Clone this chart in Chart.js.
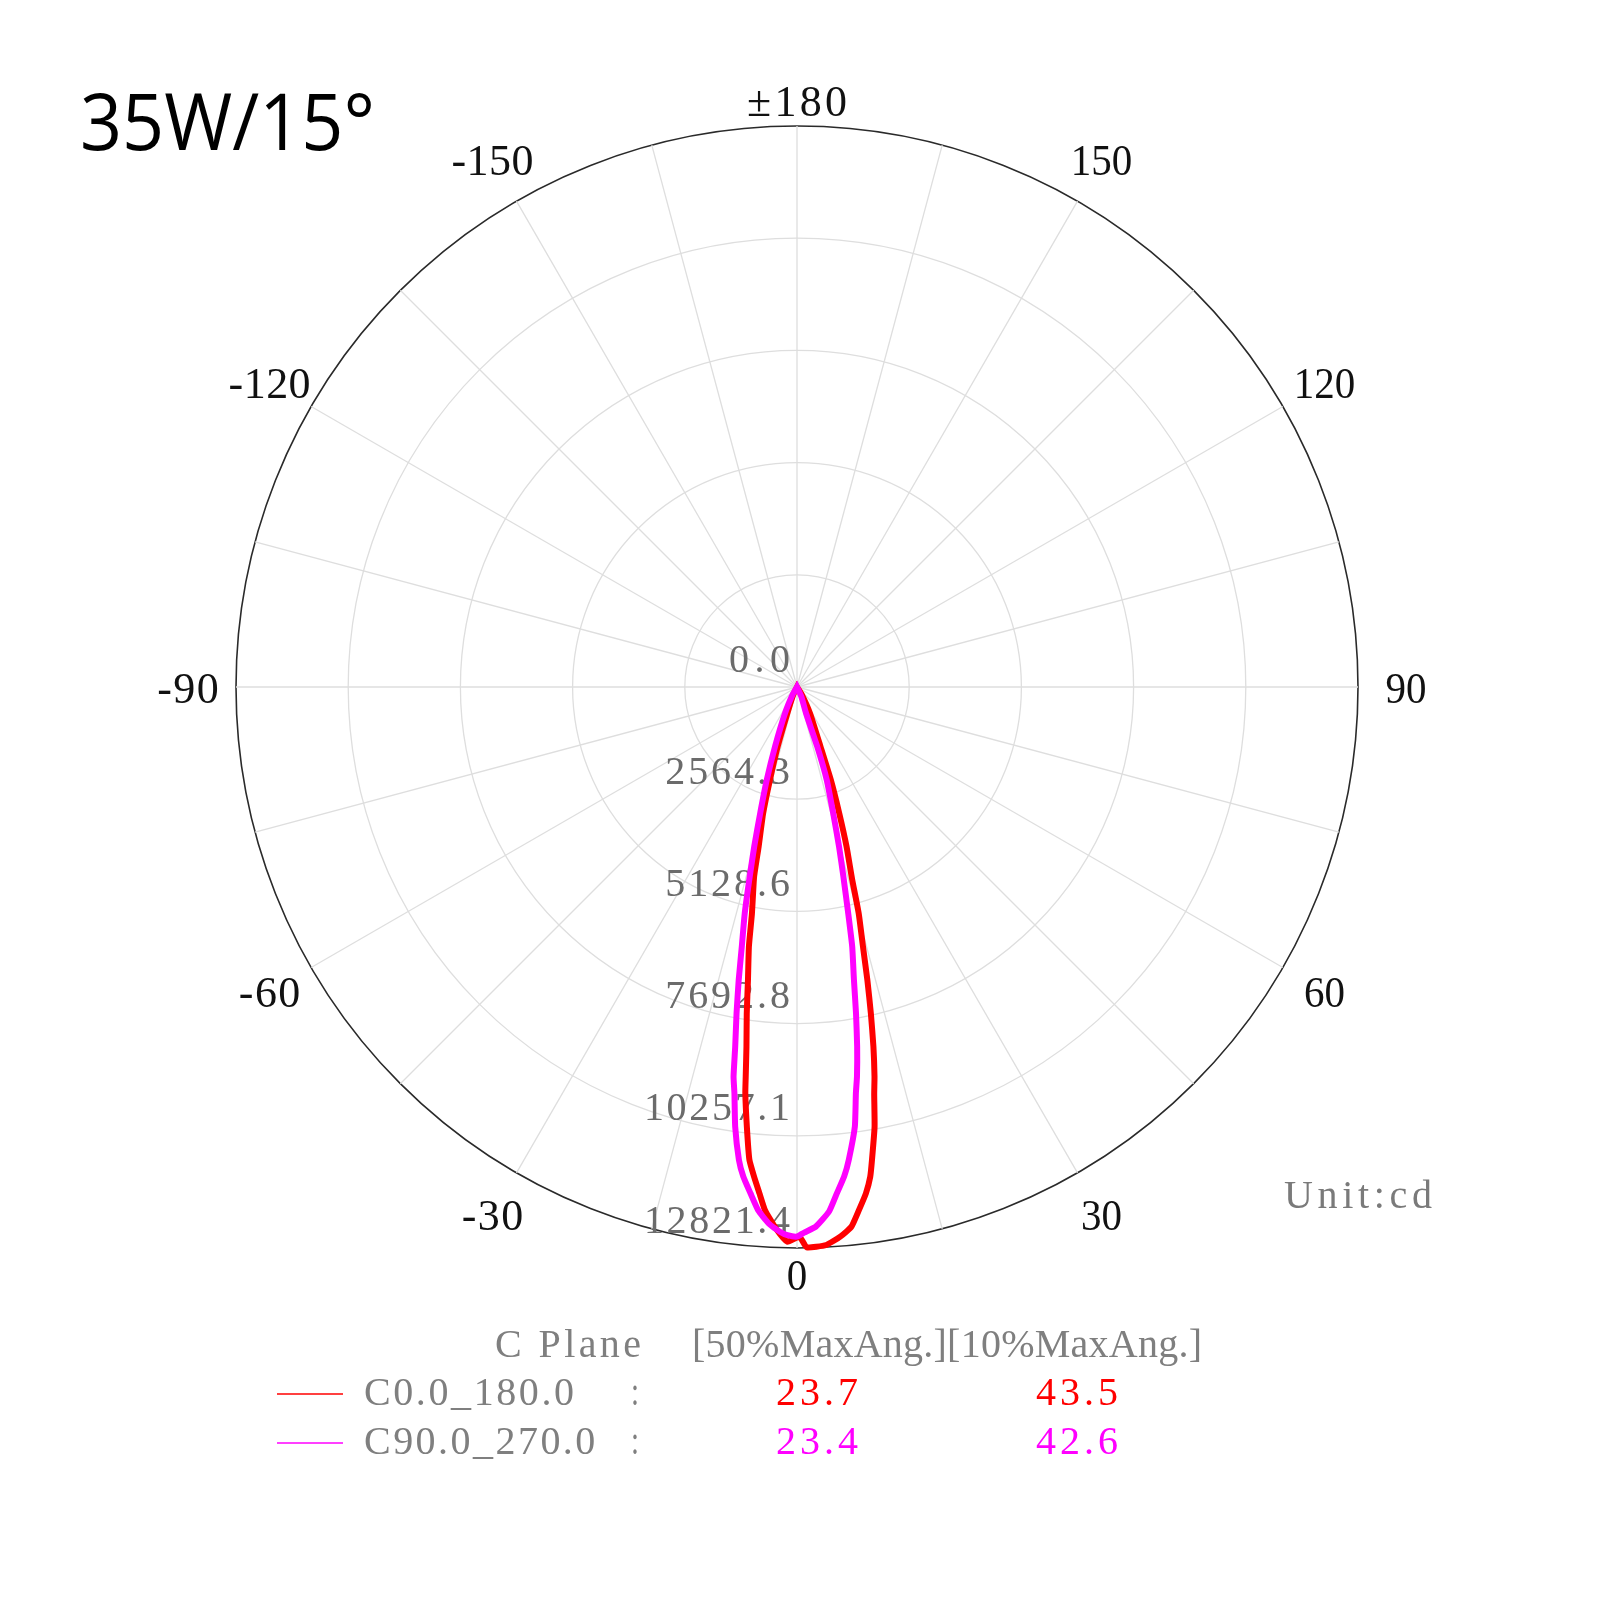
<!DOCTYPE html>
<html>
<head>
<meta charset="utf-8">
<title>35W/15° intensity distribution</title>
<script src="https://cdn.jsdelivr.net/npm/chart.js@4.4.1/dist/chart.umd.min.js"></script>
<style>
  html, body { margin: 0; padding: 0; background: #fff; overflow: hidden; }
  #wrap { width: 1600px; height: 1600px; }
</style>
</head>
<body>
<div id="wrap"><canvas id="polarChart" width="1600" height="1600"></canvas></div>
<script>
// Readings: gamma angle (deg) and intensity (cd)
const c0Angles = [40, 32, 26.25, 21.5, 20, 18.5, 17.25, 16, 15.25, 14.25, 13.5, 12.75, 12, 11.25, 10.75, 10, 9, 8.5, 7.75, 6.75, 5.75, 4.5, 3, 1, 0.25, -1, -2.25, -3.5, -4.25, -5, -5.75, -6.5, -7.25, -7.5, -8, -8.75, -9.5, -10.5, -11.25, -12.75, -13.5, -15, -16.25, -18, -20.25, -26, -40];
const c0Values = [0, 200, 670, 1470, 2260, 3040, 3820, 4570, 5360, 6130, 6890, 7650, 8400, 9080, 9460, 10210, 10950, 11320, 11680, 12040, 12400, 12600, 12770, 12810, 12560, 12680, 12380, 11980, 11600, 11240, 10860, 10120, 9360, 8980, 8300, 7550, 6790, 6030, 5280, 4440, 3760, 2990, 2210, 1430, 640, 200, 0];

const c90Angles = [40, 24, 19, 18.75, 17.75, 16, 14.75, 13.75, 12.75, 12, 11, 10.25, 9.5, 8.75, 8.25, 7.5, 6.25, 5.5, 4.5, 3.5, 2, 0.75, 0, -1, -1.75, -3, -4.25, -5.25, -6.25, -7, -8, -8.75, -9.25, -9.75, -10.5, -11.25, -12, -13, -14, -15, -16.25, -18, -20.25, -24.5, -30, -40];
const c90Values = [0, 250, 640, 1440, 2230, 3000, 3780, 4460, 5300, 6070, 6820, 7580, 8330, 9010, 9380, 10130, 10870, 11240, 11610, 12010, 12340, 12470, 12560, 12530, 12460, 12280, 11990, 11620, 11260, 10890, 10150, 9400, 9020, 8340, 7580, 6830, 6070, 5310, 4470, 3780, 3010, 2240, 1450, 660, 200, 0];

const ringTicks = [0, 2564.3, 5128.6, 7692.8, 10257.1, 12821.4];
const angleTicks = [180, 150, 120, 90, 60, 30, 0, -30, -60, -90, -120, -150];

const planeNames = ["C0.0_180.0", "C90.0_270.0"];
const halfMaxAng = [23.7, 23.4];
const tenthMaxAng = [43.5, 42.6];
const planeColors = ["#ff0000", "#ff00ff"];

// radar slots every quarter degree, clockwise from the top (gamma 180)
const STEP = 0.25;
const SLOTS = 360 / STEP;
const slot = g => ((Math.round((180 - g) / STEP) % SLOTS) + SLOTS) % SLOTS;

let labels = [];
for (let k = 0; k < SLOTS; k++) labels.push(180 - k * STEP);

function toSeries(angles, values) {
  const arr = new Array(SLOTS).fill(null);
  angles.forEach((g, i) => { arr[slot(g)] = values[i]; });
  return arr;
}

// draws text stretched/squeezed to a given width (mimics the monospaced look)
function drawFit(ctx, text, x, y, align, width) {
  ctx.letterSpacing = "0px";
  const natural = ctx.measureText(text).width;
  const n = text.length;
  const left = align === "right" ? x - width : align === "center" ? x - width / 2 : x;
  ctx.textAlign = "left";
  if (natural < width && n > 1) {
    ctx.letterSpacing = ((width - natural) / (n - 1)) + "px";
    ctx.fillText(text, left, y);
    ctx.letterSpacing = "0px";
  } else {
    ctx.fillText(text, left, y, width);
  }
}

const polarText = {
  id: "polarText",
  beforeDatasetsDraw(chart) {
    const ctx = chart.ctx, r = chart.scales.r;
    ctx.save();
    ctx.font = "40px 'Liberation Serif'";
    ctx.fillStyle = "#6b6b6b";
    ctx.textBaseline = "middle";
    ringTicks.forEach(v => {
      const p = r.getPointPosition(slot(0), r.getDistanceFromCenterForValue(v));
      const txt = v.toFixed(1);
      drawFit(ctx, txt, p.x - 7, p.y - 26, "right", txt.length * 21.3 - 3);
    });
    ctx.restore();
  },
  afterDraw(chart) {
    const ctx = chart.ctx, r = chart.scales.r;
    ctx.save();

    // angle labels
    ctx.font = "44px 'Liberation Serif'";
    ctx.fillStyle = "#111";
    ctx.textBaseline = "middle";
    angleTicks.forEach(g => {
      const s = Math.abs(Math.sin(g * Math.PI / 180));
      const d = r.drawingArea + 26 + 22 * Math.min(1, 2 * s);
      const p = r.getPointPosition(slot(g), d);
      const txt = g === 180 ? "±180" : String(g);
      const w = g === 180 ? 100 : txt.length * 20.5;
      drawFit(ctx, txt, p.x, p.y + 4, "center", w);
    });

    // title
    ctx.font = "78px 'Open Sans'";
    ctx.fillStyle = "#000";
    ctx.textBaseline = "alphabetic";
    ctx.textAlign = "left";
    ctx.fillText("35W/15°", 80, 150, 295);

    // unit
    ctx.font = "40px 'Liberation Serif'";
    ctx.textBaseline = "middle";
    ctx.fillStyle = "#7a7a7a";
    drawFit(ctx, "Unit:cd", 1284, 1197, "left", 148);

    // legend table
    ctx.fillStyle = "#7f7f7f";
    drawFit(ctx, "C Plane", 495, 1346, "left", 146);
    drawFit(ctx, "[50%MaxAng.][10%MaxAng.]", 692, 1346, "left", 510);
    const rowY = [1394, 1443];
    chart.data.datasets.forEach((ds, i) => {
      const y = rowY[i];
      ctx.strokeStyle = ds.borderColor;
      ctx.lineWidth = 1.6;
      ctx.beginPath();
      ctx.moveTo(277, y);
      ctx.lineTo(343, y);
      ctx.stroke();
      ctx.fillStyle = "#7f7f7f";
      drawFit(ctx, planeNames[i], 364, y, "left", planeNames[i].length * 21.3 - 3);
      drawFit(ctx, ":", 635, y, "center", 8);
      ctx.fillStyle = ds.borderColor;
      drawFit(ctx, halfMaxAng[i].toFixed(1), 776, y, "left", 82);
      drawFit(ctx, tenthMaxAng[i].toFixed(1), 1036, y, "left", 82);
    });
    ctx.restore();
  }
};

const lastRing = ringTicks.length - 1;

new Chart(document.getElementById("polarChart"), {
  type: "radar",
  data: {
    labels: labels,
    datasets: [
      {
        label: planeNames[0],
        data: toSeries(c0Angles, c0Values),
        borderColor: planeColors[0],
        backgroundColor: "transparent",
        borderWidth: 6,
        pointRadius: 0,
        fill: false,
        spanGaps: true,
        tension: 0.15,
        order: 2
      },
      {
        label: planeNames[1],
        data: toSeries(c90Angles, c90Values),
        borderColor: planeColors[1],
        backgroundColor: "transparent",
        borderWidth: 6,
        pointRadius: 0,
        fill: false,
        spanGaps: true,
        tension: 0.15,
        order: 1
      }
    ]
  },
  options: {
    responsive: false,
    animation: false,
    events: [],
    layout: { padding: { left: 236, right: 242, top: 126, bottom: 352 } },
    plugins: { legend: { display: false }, tooltip: { enabled: false } },
    scales: {
      r: {
        min: 0,
        max: ringTicks[lastRing],
        startAngle: 0,
        afterBuildTicks: s => { s.ticks = ringTicks.map(v => ({ value: v })); },
        ticks: { display: false },
        pointLabels: { display: false },
        grid: {
          circular: true,
          color: c => c.index === lastRing ? "#2a2a2a" : "#dedede",
          lineWidth: c => c.index === lastRing ? 1.6 : 1.3
        },
        angleLines: {
          color: "#dedede",
          lineWidth: c => (labels[c.index] % 15 === 0 ? 1.3 : 0)
        }
      }
    }
  },
  plugins: [polarText]
});
</script>
</body>
</html>
